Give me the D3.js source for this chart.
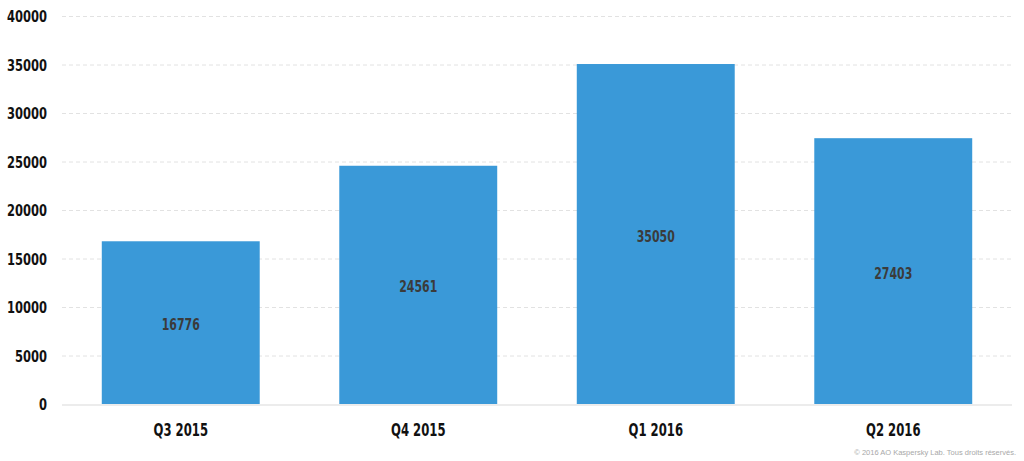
<!DOCTYPE html>
<html><head><meta charset="utf-8">
<script src="https://cdn.jsdelivr.net/npm/d3@7"></script>
<style>
body{margin:0;background:#fff;}
svg{display:block;}
.cond{font-family:"DejaVu Sans Condensed","DejaVu Sans",sans-serif;font-weight:bold;}
</style></head>
<body>
<svg id="c" width="1024" height="461"></svg>
<script>
const categories = ["Q3 2015","Q4 2015","Q1 2016","Q2 2016"];
const values = [16776, 24561, 35050, 27403];
const yTicks = [0,5000,10000,15000,20000,25000,30000,35000,40000];

const svg = d3.select("#c");
const m = {left:62, right:12, top:16, bottom:57};
const W = 1024, H = 461;
const x = d3.scaleBand().domain(categories).range([m.left, W-m.right]).paddingInner(0.335).paddingOuter(0.1675);
const y = d3.scaleLinear().domain([0,40000]).range([H-m.bottom, m.top]);

// grid
svg.append("g").selectAll("line").data(yTicks.filter(d=>d>0)).join("line")
  .attr("x1", m.left).attr("x2", W-m.right)
  .attr("y1", d=>y(d)+0.5).attr("y2", d=>y(d)+0.5)
  .attr("stroke","#e2e2e2").attr("stroke-dasharray","4,3");

// y axis labels
const ya = svg.append("g").attr("transform",`translate(${m.left-15},0)`)
  .call(d3.axisLeft(y).tickValues(yTicks).tickSize(0).tickPadding(0).tickFormat(d3.format("d")));
ya.select(".domain").remove();
ya.selectAll("text").attr("class","cond").style("font-size","16px").attr("fill","#111")
  .attr("x",0).attr("dy","0.35em").attr("transform","scale(0.8,1)");

// bars
svg.append("g").selectAll("rect").data(values).join("rect")
  .attr("x",(d,i)=>x(categories[i])).attr("width",x.bandwidth())
  .attr("y",d=>y(d)).attr("height",d=>y(0)-y(d))
  .attr("fill","#3a99d8");

// baseline
svg.append("line").attr("x1",m.left).attr("x2",W-m.right)
  .attr("y1",y(0)+1).attr("y2",y(0)+1).attr("stroke","#e6e6e6").attr("stroke-width",1.5);

// value labels
svg.append("g").selectAll("g").data(values).join("g")
  .attr("transform",(d,i)=>`translate(${x(categories[i])+x.bandwidth()/2},${(y(d)+y(0))/2+2})`)
  .append("text")
  .attr("class","cond").attr("transform","scale(0.76,1)")
  .attr("dy","0.35em")
  .attr("text-anchor","middle").style("font-size","16px").attr("fill","#3b3b3b")
  .text(d=>d);

// x axis labels
const xa = svg.append("g").attr("transform",`translate(0,${y(0)})`)
  .call(d3.axisBottom(x).tickSize(0).tickPadding(19));
xa.select(".domain").remove();
xa.selectAll("text").attr("class","cond").style("font-size","18px").attr("fill","#111")
  .attr("transform","scale(0.72,1)");

// copyright
svg.append("text").attr("x",1016).attr("y",455).attr("text-anchor","end")
  .style("font-family","Liberation Sans, Arial, sans-serif").style("font-size","7.5px").attr("fill","#a8a8a8")
  .text("© 2016 AO Kaspersky Lab. Tous droits réservés.");
</script>
</body></html>
